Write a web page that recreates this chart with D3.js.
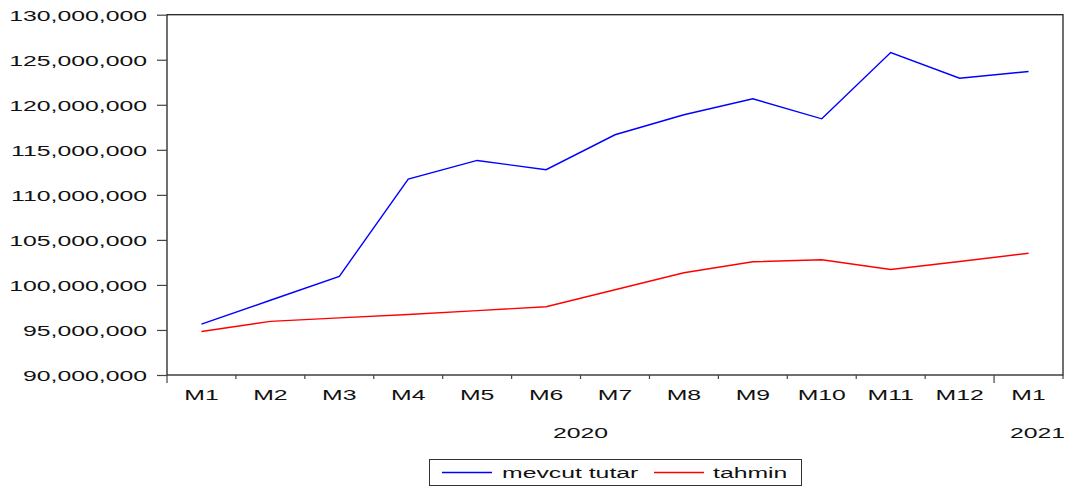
<!DOCTYPE html>
<meta charset="utf-8">
<head>
	<script type="text/javascript" src="https://cdn.jsdelivr.net/npm/d3@7"></script>
	<style>
		body { margin: 0; background: #fff; }
		text { font-family: "Liberation Sans", Arial, sans-serif; font-size: 15.5px; fill: #111; }
	</style>
</head>
<body>
	<svg id="chart" width="1072" height="488"></svg>
</body>
<script type="text/javascript">
	// monthly labels, 2020 M1 .. 2021 M1
	var months = ["M1", "M2", "M3", "M4", "M5", "M6", "M7", "M8", "M9", "M10", "M11", "M12", "M1"];
	var years = [{label: "2020", from: 0, to: 12}, {label: "2021", from: 12, to: 13}];
	var mevcutTutar = [95650000, 98300000, 100950000, 111760000, 113820000, 112790000, 116670000, 118890000, 120660000, 118440000, 125800000, 122950000, 123700000];
	var tahmin = [94830000, 95950000, 96340000, 96720000, 97150000, 97580000, 99470000, 101350000, 102570000, 102800000, 101710000, 102600000, 103520000];
	var yTicks = [90000000, 95000000, 100000000, 105000000, 110000000, 115000000, 120000000, 125000000, 130000000];

	var plotLeft = 167, plotRight = 1063, plotTop = 14.7, plotBottom = 375;
	var sx = 1.6; // text is stretched wide in the original

	var svg = d3.select("#chart");

	var x = d3.scaleBand().domain(d3.range(months.length)).range([plotLeft, plotRight]);
	var y = d3.scaleLinear().domain([90000000, 130000000]).range([plotBottom, plotTop]);

	// frame
	svg.append("rect")
		.attr("x", plotLeft).attr("y", plotTop)
		.attr("width", plotRight - plotLeft).attr("height", plotBottom - plotTop)
		.style("fill", "none").style("stroke", "#222").style("stroke-width", 1.3);

	// y axis
	var yAxis = svg.append("g")
		.attr("transform", "translate(" + plotLeft + ",0)")
		.call(d3.axisLeft(y).tickValues(yTicks).tickSize(10).tickFormat(d3.format(",")));
	yAxis.select(".domain").remove();
	yAxis.selectAll("line").style("stroke", "#444").style("stroke-width", 1.2);
	yAxis.selectAll("text")
		.attr("x", 0).attr("dy", "0.35em")
		.attr("transform", "translate(-20,0) scale(" + sx + ",1)")
		.style("font-size", "15.5px").style("fill", "#111")
		.style("font-family", "'Liberation Sans', Arial, sans-serif");

	// x ticks at the month boundaries, longer at year starts
	var bounds = d3.range(months.length + 1);
	svg.append("g").selectAll("line")
		.data(bounds)
		.join("line")
		.attr("x1", function(d){ return d < months.length ? x(d) : plotRight; })
		.attr("x2", function(d){ return d < months.length ? x(d) : plotRight; })
		.attr("y1", plotBottom)
		.attr("y2", function(d){ return (d === 0 || d === 12) ? plotBottom + 8 : plotBottom + 4; })
		.style("stroke", "#444").style("stroke-width", 1.2);

	// month labels
	svg.append("g").selectAll("text")
		.data(months)
		.join("text")
		.attr("text-anchor", "middle")
		.attr("transform", function(d, i){ return "translate(" + (x(i) + x.bandwidth() / 2) + ",400) scale(" + sx + ",1)"; })
		.text(function(d){ return d; });

	// year labels
	svg.append("g").selectAll("text")
		.data(years)
		.join("text")
		.attr("text-anchor", function(d){ return d.to === months.length ? "end" : "middle"; })
		.attr("transform", function(d){
			var xe = d.to === months.length ? plotRight + 2 : (x(d.from) + x(d.to)) / 2;
			return "translate(" + xe + ",438) scale(" + sx + ",1)";
		})
		.text(function(d){ return d.label; });

	// lines
	var line = d3.line()
		.x(function(d, i){ return x(i) + x.bandwidth() / 2; })
		.y(function(d){ return y(d); });

	svg.append("path")
		.attr("d", line(mevcutTutar))
		.style("fill", "none").style("stroke", "#0000ff").style("stroke-width", 1.4);
	svg.append("path")
		.attr("d", line(tahmin))
		.style("fill", "none").style("stroke", "#ff0000").style("stroke-width", 1.4);

	// legend
	var legend = svg.append("g");
	legend.append("rect")
		.attr("x", 429.5).attr("y", 459.5).attr("width", 372).attr("height", 26)
		.style("fill", "#fff").style("stroke", "#333").style("stroke-width", 1);
	var items = [{name: "mevcut tutar", color: "#0000ff", x0: 442, tx: 502},
	             {name: "tahmin", color: "#ff0000", x0: 654, tx: 713}];
	items.forEach(function(it){
		legend.append("line")
			.attr("x1", it.x0).attr("x2", it.x0 + 50).attr("y1", 472.5).attr("y2", 472.5)
			.style("stroke", it.color).style("stroke-width", 1.3);
		legend.append("text")
			.attr("transform", "translate(" + it.tx + ",478) scale(" + sx + ",1)")
			.text(it.name);
	});
</script>
